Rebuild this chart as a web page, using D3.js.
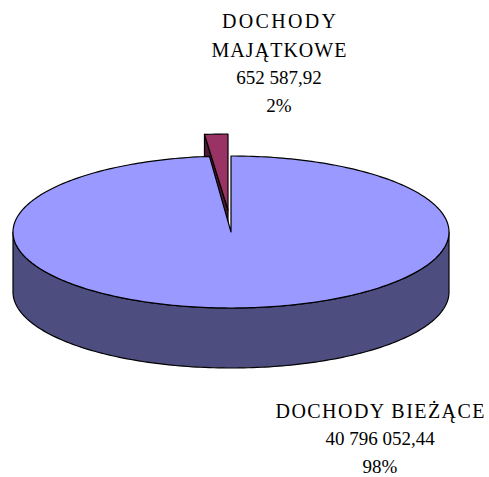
<!DOCTYPE html>
<html><head><meta charset="utf-8">
<script src="https://cdn.jsdelivr.net/npm/d3@7"></script>
<style>html,body{margin:0;background:#fff}svg{display:block}</style></head>
<body><svg width="489" height="477"></svg>
<script>
const categories = ["DOCHODY BIEŻĄCE", "DOCHODY MAJĄTKOWE"];
const values = [40796052.44, 652587.92];
const valueLabels = ["40 796 052,44", "652 587,92"];
const percentLabels = ["98%", "2%"];

const svg = d3.select("svg");
const x = d3.scaleLinear().domain([-1, 1]).range([13, 449]);
const y = d3.scaleLinear().domain([-1, 1]).range([308, 156]);
const depth = 60, explode = [-3, -22], cornerShift = -2;
const pie = d3.pie().sort(null).value(d => d);
const arcs = pie(values);
const main = arcs[0], small = arcs[1];
const stroke = "#000";

const pt = (a, r = 1, dx = 0, dy = 0) => [x(r * Math.sin(a)) + dx, y(r * Math.cos(a)) + dy];
const rim = (a0, a1, dx = 0, dy = 0) => {
  const n = Math.max(2, Math.ceil(Math.abs(a1 - a0) / 0.02));
  return d3.range(n + 1).map(i => pt(a0 + (a1 - a0) * i / n, 1, dx, dy));
};
const line = d3.line();
const poly = (pts, fill) => svg.append("path").attr("d", line(pts) + "Z")
  .attr("fill", fill).attr("stroke", stroke).attr("stroke-width", 1.2).attr("stroke-linejoin", "round");

// exploded slice: side wall, then top
const [ex, ey] = explode;
const corner = pt(small.startAngle, 1, ex + cornerShift, ey);
poly([pt(0, 0, ex, ey), corner, [corner[0], corner[1] + depth], pt(0, 0, ex, ey + depth)], "#4d1933");
poly([pt(0, 0, ex, ey), corner, ...rim(small.startAngle, small.endAngle, ex, ey)], "#993366");

// main slice: outer wall of the front half, then top
poly([...rim(Math.PI / 2, 3 * Math.PI / 2), ...rim(3 * Math.PI / 2, Math.PI / 2, 0, depth)], "#4d4d80");
poly([pt(0, 0), ...rim(main.startAngle, main.endAngle)], "#9999ff");

const label = (cx, rows) => rows.forEach(([t, by, len]) => {
  const s = svg.append("text")
    .attr("x", cx).attr("y", by).attr("text-anchor", "middle")
    .attr("font-family", "'Liberation Serif', serif").attr("font-size", len ? 20 : 19).attr("fill", "#000").text(t);
  if (len) s.attr("textLength", len).attr("lengthAdjust", "spacing");
});
const capWords = categories[1].split(" ");
label(279, [[capWords[0], 28, 114], [capWords[1], 57, 135], [valueLabels[1], 84], [percentLabels[1], 112]]);
label(380, [[categories[0], 418, 209], [valueLabels[0], 445], [percentLabels[0], 473]]);
</script></body></html>
